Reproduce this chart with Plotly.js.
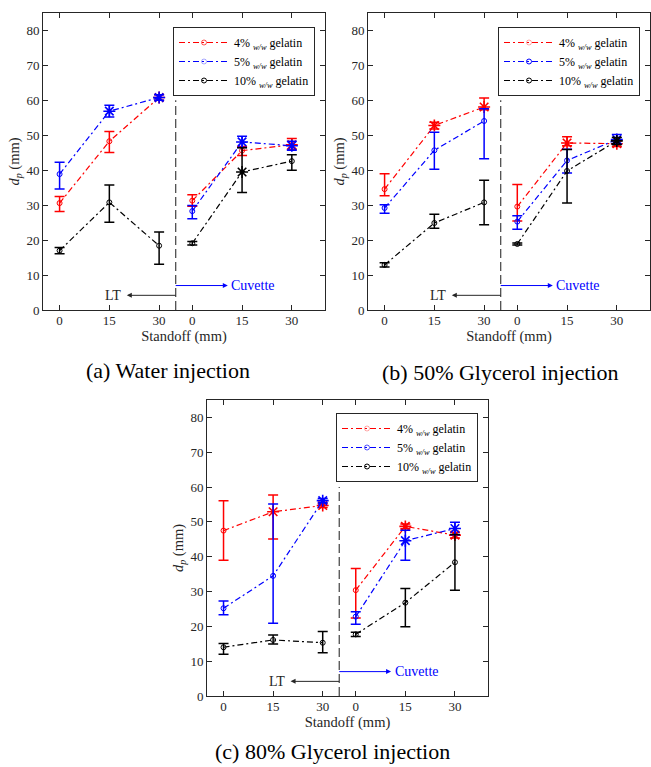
<!DOCTYPE html>
<html><head><meta charset="utf-8">
<script src="https://cdn.plot.ly/plotly-3.0.1.min.js"></script>
<style>html,body{margin:0;padding:0;background:#fff}</style>
</head><body><div id="chart" style="width:651px;height:767px"></div>
<script>
// ---- categories / labels ----
const standoff = [0, 15, 30];                 // mm
const setups = ['LT', 'Cuvette'];
const seriesNames = ['4% <sub><i>w/w</i></sub> gelatin', '5% <sub><i>w/w</i></sub> gelatin', '10% <sub><i>w/w</i></sub> gelatin'];
const captions = ['(a) Water injection', '(b) 50% Glycerol injection', '(c) 80% Glycerol injection'];
const yTicks = [0, 10, 20, 30, 40, 50, 60, 70, 80];

// ---- values: [LT 0, LT 15, LT 30, Cuvette 0, Cuvette 15, Cuvette 30] (mm) ----
// star: 1 = asterisk marker, 0 = circle marker
// (a) Water injection
const waterG4Mean  = [30.6, 48.3, 60.8, 31.3, 45.6, 47.3];
const waterG4Plus  = [1.9, 2.8, 0.8, 1.7, 1.2, 1.8];
const waterG4Minus = [2.4, 3.2, 0.8, 1.6, 1.4, 1.3];
const waterG4Star  = [0, 0, 1, 0, 0, 1];
const waterG5Mean  = [38.9, 56.9, 60.8, 28.3, 48.1, 47.0];
const waterG5Plus  = [3.4, 1.7, 0.8, 1.6, 1.6, 1.3];
const waterG5Minus = [4.3, 1.7, 0.8, 2.2, 1.6, 1.3];
const waterG5Star  = [0, 1, 1, 0, 1, 1];
const waterG10Mean  = [17.0, 30.8, 18.4, 19.1, 39.5, 42.6];
const waterG10Plus  = [0.9, 5.0, 3.9, 0.5, 6.9, 1.8];
const waterG10Minus = [0.9, 5.7, 5.3, 0.5, 5.9, 2.6];
const waterG10Star  = [0, 0, 0, 0, 1, 0];
// (b) 50% Glycerol injection
const gly50G4Mean  = [34.6, 52.8, 58.1, 29.6, 47.8, 47.6];
const gly50G4Plus  = [4.4, 0.9, 2.6, 6.3, 1.8, 0.8];
const gly50G4Minus = [1.9, 1.0, 0.8, 4.1, 0.8, 0.8];
const gly50G4Star  = [0, 1, 1, 0, 1, 1];
const gly50G5Mean  = [29.2, 45.7, 54.1, 25.3, 42.8, 48.8];
const gly50G5Plus  = [0.9, 5.2, 3.5, 1.7, 3.2, 1.4];
const gly50G5Minus = [1.5, 5.4, 10.8, 2.2, 3.6, 1.2];
const gly50G5Star  = [0, 0, 0, 0, 0, 1];
const gly50G10Mean  = [12.9, 24.9, 30.8, 18.9, 39.8, 48.4];
const gly50G10Plus  = [0.6, 2.5, 6.3, 0.3, 6.1, 1.0];
const gly50G10Minus = [0.6, 1.5, 6.4, 0.3, 9.2, 1.0];
const gly50G10Star  = [0, 0, 0, 0, 0, 1];
// (c) 80% Glycerol injection
const gly80G4Mean  = [47.5, 52.9, 54.7, 30.4, 48.7, 46.2];
const gly80G4Plus  = [8.6, 4.8, 0.6, 6.2, 0.7, 0.8];
const gly80G4Minus = [8.5, 7.8, 0.6, 8.0, 0.7, 0.8];
const gly80G4Star  = [0, 1, 1, 0, 1, 1];
const gly80G5Mean  = [25.2, 34.5, 56.1, 22.8, 44.6, 48.1];
const gly80G5Plus  = [2.1, 20.6, 0.6, 1.4, 3.0, 1.8];
const gly80G5Minus = [1.9, 13.6, 0.6, 2.2, 5.6, 1.8];
const gly80G5Star  = [0, 0, 1, 0, 1, 1];
const gly80G10Mean  = [14.0, 16.1, 15.3, 17.7, 26.8, 38.4];
const gly80G10Plus  = [1.1, 1.4, 3.2, 0.6, 4.1, 8.0];
const gly80G10Minus = [2.0, 1.2, 2.9, 0.6, 6.9, 8.0];
const gly80G10Star  = [0, 0, 0, 0, 0, 0];

// ---- styling / layout ----
const FONT = "'Liberation Serif', serif";
const colors = ['#ff0000', '#0000ff', '#000000'];
const setupOffset = [0, 40];     // horizontal placement of the two setups on the shared axis
const divider = 35;

const panels = [
  {series: [[waterG4Mean, waterG4Plus, waterG4Minus, waterG4Star],
            [waterG5Mean, waterG5Plus, waterG5Minus, waterG5Star],
            [waterG10Mean, waterG10Plus, waterG10Minus, waterG10Star]],
   xd: [43/651, 325/651], yd: [1-310/767, 1-13/767], leg: [173/651, 1-27/767], cap: [168/651, 1-370/767, 'middle']},
  {series: [[gly50G4Mean, gly50G4Plus, gly50G4Minus, gly50G4Star],
            [gly50G5Mean, gly50G5Plus, gly50G5Minus, gly50G5Star],
            [gly50G10Mean, gly50G10Plus, gly50G10Minus, gly50G10Star]],
   xd: [368/651, 650/651], yd: [1-310/767, 1-13/767], leg: [498/651, 1-27/767], cap: [500/651, 1-372/767, 'middle']},
  {series: [[gly80G4Mean, gly80G4Plus, gly80G4Minus, gly80G4Star],
            [gly80G5Mean, gly80G5Plus, gly80G5Minus, gly80G5Star],
            [gly80G10Mean, gly80G10Plus, gly80G10Minus, gly80G10Star]],
   xd: [207/651, 488/651], yd: [1-696/767, 1-400/767], leg: [336/651, 1-413/767], cap: [332/651, 1/767, 'bottom']}
];

const traces = [];
const layout = {
  width: 651, height: 767, margin: {l: 0, r: 0, t: 0, b: 0},
  paper_bgcolor: '#fff', plot_bgcolor: '#fff',
  font: {family: FONT, color: '#262626'},
  shapes: [], annotations: []
};

const xTickVals = [], xTickText = [];
setupOffset.forEach(o => standoff.forEach(s => { xTickVals.push(s + o); xTickText.push(String(s)); }));

panels.forEach((p, pi) => {
  const n = pi === 0 ? '' : String(pi + 1);
  const xa = 'x' + n, ya = 'y' + n, lg = 'legend' + n;
  p.series.forEach((ser, si) => {
    const [mean, plus, minus, star] = ser;
    setupOffset.forEach((off, k) => {
      const sl = a => a.slice(3 * k, 3 * k + 3);
      const st = sl(star);
      const xs = standoff.map(v => v + off);
      const ys = sl(mean);
      traces.push({
        type: 'scatter', mode: 'lines+markers',
        x: xs, y: ys,
        xaxis: xa, yaxis: ya, legend: lg,
        name: seriesNames[si], showlegend: k === 0,
        line: {color: colors[si], width: 1.2, dash: '6px,3px,2px,3px'},
        marker: {color: colors[si], symbol: 'circle-open', size: 5, line: {color: colors[si], width: 1},
                 opacity: st.map(f => f ? 0 : 1)},
        error_y: {type: 'data', symmetric: false, array: sl(plus), arrayminus: sl(minus),
                  color: colors[si], thickness: 1.5, width: 5},
        hoverinfo: 'x+y'
      });
      const idx = [0, 1, 2].filter(i => st[i]);
      if (idx.length) {
        traces.push({
          type: 'scatter', mode: 'markers',
          x: idx.map(i => xs[i]), y: idx.map(i => ys[i]),
          xaxis: xa, yaxis: ya, legend: lg, showlegend: false, name: seriesNames[si],
          marker: {color: colors[si], symbol: 'asterisk-open', size: 10, line: {color: colors[si], width: 1.6}},
          hoverinfo: 'x+y'
        });
      }
    });
  });
  const axBase = {showline: true, mirror: 'ticks', linecolor: '#262626', linewidth: 1,
    ticks: 'inside', ticklen: 5, tickcolor: '#262626', showgrid: false, zeroline: false,
    tickfont: {family: FONT, size: 13, color: '#262626'}, automargin: false};
  layout['xaxis' + n] = Object.assign({}, axBase, {
    domain: p.xd, anchor: ya, range: [-5, 80], tickmode: 'array', tickvals: xTickVals, ticktext: xTickText,
    ticklabelstandoff: -2,
    title: {text: 'Standoff (mm)', font: {family: FONT, size: 14.5, color: '#262626'}, standoff: 0}
  });
  layout['yaxis' + n] = Object.assign({}, axBase, {
    domain: p.yd, anchor: xa, range: [0, 85], tickmode: 'array', tickvals: yTicks,
    title: {text: '<i>d</i><sub><i>p</i></sub> (mm)', font: {family: FONT, size: 14.5, color: '#262626'}, standoff: 3}
  });
  layout[lg] = {x: p.leg[0], y: p.leg[1], xanchor: 'left', yanchor: 'top', xref: 'paper', yref: 'paper',
    bgcolor: '#fff', bordercolor: '#262626', borderwidth: 1, itemwidth: 50, tracegroupgap: 0,
    font: {family: FONT, size: 12, color: '#000'}};
  layout.shapes.push({type: 'line', xref: xa, yref: ya, x0: divider, x1: divider, y0: 0, y1: 60,
    line: {color: '#404040', width: 1.2, dash: '9px,4px'}});
  layout.annotations.push(
    // arrow from the divider to the label, head at the label side
    {xref: xa, yref: ya, axref: xa, ayref: ya, x: divider, y: 4.2, ax: 16.2, ay: 4.2, text: setups[0],
     showarrow: true, arrowside: 'start', startarrowhead: 2, arrowhead: 2, startarrowsize: 1, arrowsize: 1,
     arrowwidth: 1, arrowcolor: '#262626', startstandoff: 4,
     font: {family: FONT, size: 14, color: '#262626'}},
    {xref: xa, yref: ya, axref: xa, ayref: ya, x: divider, y: 7, ax: 58.4, ay: 7, text: setups[1],
     showarrow: true, arrowside: 'start', startarrowhead: 2, arrowhead: 2, startarrowsize: 1, arrowsize: 1,
     arrowwidth: 1, arrowcolor: '#0000ff', startstandoff: 2,
     font: {family: FONT, size: 14, color: '#0000ff'}},
    {xref: 'paper', yref: 'paper', x: p.cap[0], y: p.cap[1], xanchor: 'center', yanchor: p.cap[2],
     text: captions[pi], showarrow: false, font: {family: FONT, size: 22, color: '#000'}}
  );
});

Plotly.newPlot('chart', traces, layout, {displayModeBar: false, staticPlot: true});
</script></body></html>
